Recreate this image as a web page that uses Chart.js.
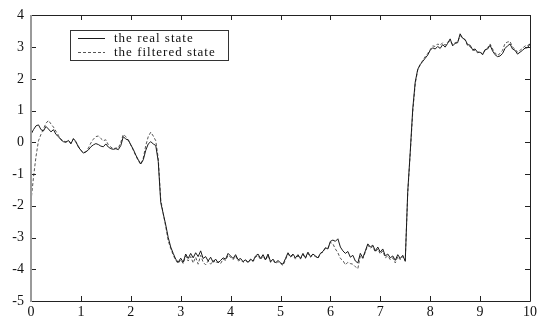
<!DOCTYPE html>
<html>
<head>
<meta charset="utf-8">
<script src="https://cdn.jsdelivr.net/npm/chart.js@4.4.1/dist/chart.umd.min.js"></script>
<style>
html,body{margin:0;padding:0;background:#fff;}
#wrap{width:540px;height:320px;}
</style>
</head>
<body>
<div id="wrap"><canvas id="c" width="540" height="320"></canvas></div>
<script>
const timeStep = 0.05;
const xTicks = [0,1,2,3,4,5,6,7,8,9,10];
const yTicks = [-5,-4,-3,-2,-1,0,1,2,3,4];
const seriesNames = ['the real state','the filtered state'];

const realState = [
 0.25,0.40,0.52,0.55,0.40,0.36,0.50,0.42,0.33,0.40,0.25,0.18,0.08,0.02,0.00,0.06,-0.05,0.12,0.02,-0.15,
 -0.25,-0.34,-0.30,-0.24,-0.14,-0.08,-0.04,-0.07,-0.12,-0.14,-0.05,-0.15,-0.20,-0.22,-0.20,-0.23,-0.10,0.18,0.10,0.08,
 -0.08,-0.22,-0.40,-0.55,-0.68,-0.55,-0.25,-0.05,0.02,-0.05,-0.10,-0.60,-1.90,-2.25,-2.60,-3.00,-3.30,-3.50,-3.68,-3.78,
 -3.65,-3.78,-3.52,-3.66,-3.50,-3.64,-3.48,-3.60,-3.42,-3.66,-3.60,-3.74,-3.62,-3.78,-3.68,-3.80,-3.72,-3.64,-3.68,-3.50,
 -3.58,-3.66,-3.54,-3.70,-3.66,-3.76,-3.70,-3.78,-3.68,-3.74,-3.58,-3.52,-3.66,-3.54,-3.70,-3.52,-3.76,-3.68,-3.80,-3.72,
 -3.80,-3.84,-3.66,-3.48,-3.60,-3.52,-3.64,-3.54,-3.66,-3.50,-3.64,-3.46,-3.60,-3.52,-3.58,-3.64,-3.50,-3.44,-3.32,-3.36,
 -3.12,-3.08,-3.12,-3.04,-3.30,-3.42,-3.50,-3.44,-3.62,-3.56,-3.74,-3.80,-3.50,-3.64,-3.42,-3.20,-3.30,-3.24,-3.42,-3.30,
 -3.46,-3.36,-3.58,-3.52,-3.64,-3.58,-3.72,-3.54,-3.66,-3.56,-3.75,-1.55,-0.30,1.05,1.90,2.30,2.45,2.55,2.65,2.75,
 2.90,2.98,2.94,3.02,2.96,3.08,3.00,3.12,3.26,3.04,3.12,3.14,3.42,3.28,3.24,3.08,3.06,2.92,2.94,2.84,
 2.84,2.76,2.92,2.94,3.06,2.88,2.76,2.70,2.72,2.80,2.96,3.04,3.10,2.94,2.90,2.78,2.84,2.90,2.97,2.98,
 3.10
];

const filteredState = [
 -1.85,-1.10,-0.45,0.05,0.25,0.42,0.60,0.69,0.58,0.48,0.35,0.22,0.10,0.04,0.02,0.05,-0.02,0.10,0.00,-0.12,
 -0.25,-0.32,-0.30,-0.18,-0.02,0.10,0.18,0.20,0.12,0.05,0.08,-0.08,-0.15,-0.20,-0.18,-0.18,0.00,0.25,0.18,0.05,
 -0.08,-0.25,-0.42,-0.58,-0.70,-0.50,-0.10,0.18,0.32,0.20,0.05,-0.50,-1.80,-2.25,-2.65,-3.10,-3.35,-3.55,-3.72,-3.82,
 -3.70,-3.82,-3.58,-3.74,-3.60,-3.80,-3.62,-3.84,-3.56,-3.78,-3.86,-3.74,-3.84,-3.72,-3.80,-3.76,-3.82,-3.68,-3.72,-3.56,
 -3.62,-3.70,-3.58,-3.74,-3.70,-3.78,-3.72,-3.80,-3.70,-3.76,-3.62,-3.56,-3.70,-3.58,-3.72,-3.56,-3.78,-3.72,-3.82,-3.76,
 -3.82,-3.88,-3.70,-3.52,-3.62,-3.56,-3.68,-3.58,-3.68,-3.54,-3.66,-3.50,-3.62,-3.56,-3.60,-3.66,-3.50,-3.46,-3.34,-3.34,
 -3.15,-3.20,-3.36,-3.48,-3.66,-3.72,-3.86,-3.78,-3.82,-3.84,-3.92,-3.98,-3.58,-3.66,-3.46,-3.24,-3.34,-3.28,-3.46,-3.36,
 -3.52,-3.42,-3.64,-3.58,-3.70,-3.64,-3.80,-3.60,-3.70,-3.60,-3.72,-1.60,-0.35,0.95,1.85,2.28,2.45,2.58,2.70,2.80,
 2.92,3.04,3.02,3.10,3.06,3.14,3.06,3.16,3.20,3.08,3.14,3.16,3.36,3.30,3.22,3.04,3.02,2.90,2.90,2.82,
 2.86,2.78,2.90,2.98,3.10,2.94,2.82,2.74,2.80,2.90,3.12,3.16,3.18,3.00,2.94,2.84,2.90,2.96,3.04,3.04,
 3.12
];

const toPoints = arr => arr.map((v, i) => ({x: +(i * timeStep).toFixed(2), y: v}));

const FONT = '"Liberation Serif", "DejaVu Serif", serif';

const framePlugin = {
  id: 'frame',
  afterDraw(chart) {
    const {ctx, chartArea: a, scales: {x, y}} = chart;
    ctx.save();
    const L = Math.round(a.left), R = Math.round(a.right), T = Math.round(a.top), B = Math.round(a.bottom);
    const seg = (x1, y1, x2, y2) => { ctx.beginPath(); ctx.moveTo(x1, y1); ctx.lineTo(x2, y2); ctx.stroke(); };
    ctx.strokeStyle = '#222';
    ctx.lineWidth = 1;
    const tl = 5;
    xTicks.forEach(v => {
      const px = Math.round(x.getPixelForValue(v)) + 0.5;
      seg(px, B, px, B - tl);
      seg(px, T, px, T + tl);
    });
    yTicks.forEach(v => {
      const py = Math.round(y.getPixelForValue(v)) + 0.5;
      seg(L, py, L + tl, py);
      seg(R, py, R - tl, py);
    });
    seg(L, T + 0.5, R + 0.5, T + 0.5);
    seg(R + 0.5, T, R + 0.5, B + 0.5);
    seg(L, B + 0.5, R + 0.5, B + 0.5);
    ctx.strokeStyle = '#9a9a9a';
    ctx.lineWidth = 2;
    seg(L, T, L, B + 1);

    // legend
    const bx = 70.5, by = 30.5, bw = 158, bh = 30;
    ctx.fillStyle = '#fff';
    ctx.fillRect(bx, by, bw, bh);
    ctx.strokeStyle = '#333';
    ctx.lineWidth = 1;
    ctx.strokeRect(bx, by, bw, bh);
    const ds = chart.data.datasets;
    const rows = [38.5, 52.5];
    ds.forEach((d, i) => {
      ctx.strokeStyle = d.borderColor;
      ctx.lineWidth = 1;
      ctx.setLineDash(d.borderDash || []);
      seg(78, rows[i], 105, rows[i]);
      ctx.setLineDash([]);
      ctx.fillStyle = '#111';
      ctx.font = '13px ' + FONT;
      try { ctx.letterSpacing = '1px'; } catch (e) {}
      ctx.textBaseline = 'middle';
      ctx.textAlign = 'left';
      ctx.fillText(d.label, 114, rows[i]);
      try { ctx.letterSpacing = '0px'; } catch (e) {}
    });
    ctx.restore();
  }
};

new Chart(document.getElementById('c'), {
  type: 'line',
  data: {
    datasets: [
      {label: seriesNames[0], data: toPoints(realState), borderColor: '#1a1a1a', borderWidth: 1, pointRadius: 0, tension: 0},
      {label: seriesNames[1], data: toPoints(filteredState), borderColor: '#555', borderWidth: 1, borderDash: [3, 2], pointRadius: 0, tension: 0}
    ]
  },
  options: {
    responsive: false,
    animation: false,
    events: [],
    layout: {padding: {top: 13, right: 9, left: 0, bottom: 0}},
    plugins: {legend: {display: false}, tooltip: {enabled: false}},
    scales: {
      x: {
        type: 'linear', min: 0, max: 10,
        afterBuildTicks: s => { s.ticks = xTicks.map(v => ({value: v})); },
        afterFit: s => { s.height = 19; },
        grid: {display: false, drawTicks: false},
        border: {display: false},
        ticks: {color: '#111', font: {family: FONT, size: 14}, padding: 3, maxRotation: 0, autoSkip: false}
      },
      y: {
        type: 'linear', min: -5, max: 4,
        afterBuildTicks: s => { s.ticks = yTicks.map(v => ({value: v})); },
        afterFit: s => { s.width = 31; },
        grid: {display: false, drawTicks: false},
        border: {display: false},
        ticks: {color: '#111', font: {family: FONT, size: 14}, padding: 7, autoSkip: false}
      }
    }
  },
  plugins: [framePlugin]
});
</script>
</body>
</html>
